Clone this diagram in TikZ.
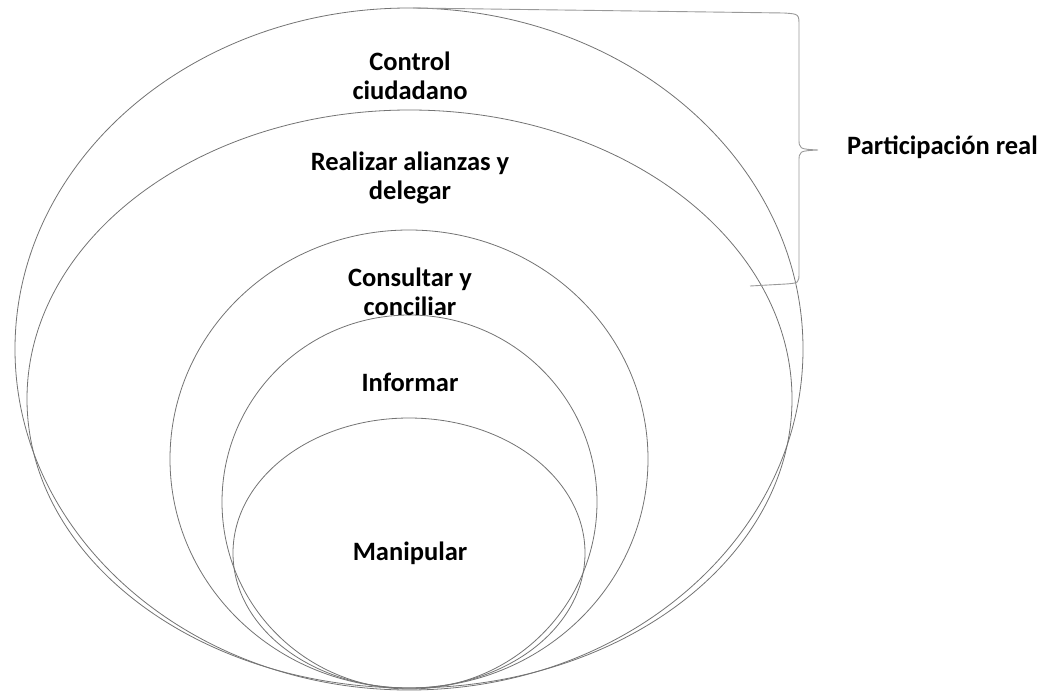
\documentclass[tikz,border=0pt]{standalone}
\usepackage{fontspec}
\setmainfont{Carlito}
\begin{document}
\begin{tikzpicture}[x=1pt,y=-1pt,
  ring/.style={draw=black!55, line width=0.8pt},
  lbl/.style={font=\fontsize{26.5}{29}\selectfont\bfseries, align=center, inner sep=0pt},
  bracestyle/.style={draw=black!40, line width=0.9pt}]
\useasboundingbox (0,0) rectangle (1046,691);
% nested ellipses
\draw[ring] (409,349) ellipse [x radius=394pt, y radius=341pt];
\draw[ring] (409.5,399) ellipse [x radius=382.5pt, y radius=289pt];
\draw[ring] (409,459) ellipse [x radius=239pt, y radius=229pt];
\draw[ring] (409.5,502) ellipse [x radius=187.5pt, y radius=187pt];
\draw[ring] (409,553) ellipse [x radius=176pt, y radius=135pt];
% labels
\node[lbl] (control) at (410,76) {Control\\ciudadano};
\node[lbl] (alianzas) at (410,177.5) {Realizar alianzas y\\delegar};
\node[lbl] (consultar) at (410,291.5) {Consultar y\\conciliar};
\node[lbl] (informar) at (410,382) {Informar};
\node[lbl] (manipular) at (410,553) {Manipular};
% brace
\coordinate (btop) at (413,8);
\coordinate (btip) at (818,150);
\coordinate (bbot) at (750,286);
\draw[bracestyle] (btop) -- (784,13) .. controls (799,14) .. (799,26)
  -- (799,138) .. controls (799,149) .. (btip)
  .. controls (799,151) .. (799,162)
  -- (799,272) .. controls (799,283) .. (786,284) -- (bbot);
\node[lbl, anchor=west] (real) at (847,147) {Participación real};
\end{tikzpicture}
\end{document}
